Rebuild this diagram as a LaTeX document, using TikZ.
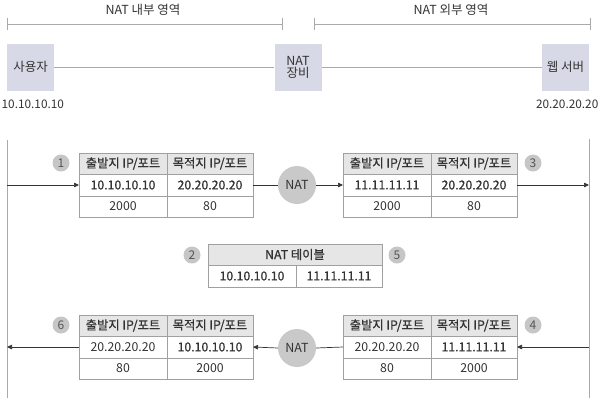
\documentclass[tikz,border=0pt]{standalone}
\usepackage{fontspec}
\setmainfont{Noto Sans CJK KR}
\newfontfamily\semib[FakeBold=0.9]{Noto Sans CJK KR}
\usetikzlibrary{arrows.meta}
\definecolor{hostc}{HTML}{D7DAE6}
\definecolor{gridc}{HTML}{A0A0A0}
\definecolor{headc}{HTML}{E6E6E6}
\definecolor{numc}{HTML}{C6C6C6}
\definecolor{numtext}{HTML}{555555}
\definecolor{natfill}{HTML}{C9C9C9}
\definecolor{linec}{HTML}{AAAAAA}
\definecolor{txtc}{HTML}{333333}
\newcommand\ptable[7]{%
  \node[hcell, wa, anchor=north west] (#1ha) at (#2,#3) {\semib 출발지 IP/포트};
  \node[hcell, wb, anchor=north west] (#1hb) at (#1ha.north east) {\semib 목적지 IP/포트};
  \node[cell, wa, anchor=north west] (#1aa) at (#1ha.south west) {#4};
  \node[cell, wb, anchor=north west] (#1ab) at (#1aa.north east) {#5};
  \node[cell, wa, anchor=north west, minimum height=21] (#1ba) at (#1aa.south west) {#6};
  \node[cell, wb, anchor=north west, minimum height=21] (#1bb) at (#1ba.north east) {#7};
}
\begin{document}
\begin{tikzpicture}[x=1pt,y=-1pt,
  every node/.style={text=txtc, font=\fontsize{12.3}{14}\selectfont},
  hostbox/.style={fill=hostc, minimum width=47, minimum height=47, inner sep=0, align=center, font=\fontsize{12.5}{14}\selectfont},
  cell/.style={draw=gridc, line width=0.6pt, minimum height=22, inner sep=0, outer sep=0},
  hcell/.style={cell, fill=headc, minimum height=21},
  wa/.style={minimum width=88},
  wb/.style={minimum width=86},
  num/.style={circle, fill=numc, minimum size=17, inner sep=0, text=numtext, font=\fontsize{12}{12}\selectfont},
  natc/.style={circle, fill=natfill, minimum size=38, inner sep=0, font=\fontsize{12.5}{14}\selectfont},
  iplab/.style={font=\fontsize{11.8}{14}\selectfont, inner sep=1pt},
  glin/.style={draw=linec, line width=0.7pt},
  arr/.style={draw=txtc, line width=0.7pt, -{Triangle[length=5pt,width=4.5pt]}},
  plain/.style={draw=txtc, line width=0.7pt}]
\useasboundingbox (0,0) rectangle (600,408);

% top brackets
\node[font=\fontsize{12.5}{14}\selectfont] (inlab) at (143,10) {NAT 내부 영역};
\node[font=\fontsize{12.5}{14}\selectfont] (outlab) at (451,10) {NAT 외부 영역};
\draw[glin] (7,18) -- (7,30) (7,24) -- (282,24) (282,18) -- (282,30);
\draw[glin] (314,18) -- (314,30) (314,24) -- (590,24) (590,18) -- (590,30);

% hosts
\node[hostbox] (user) at (30.5,67) {사용자};
\node[hostbox] (natdev) at (298,67) {NAT\\[-2pt]장비};
\node[hostbox] (web) at (565.5,67) {웹 서버};
\draw[glin] (user.east) -- (natdev.west);
\draw[glin] (natdev.east) -- (web.west);
\node[iplab, anchor=west] (userip) at (0.5,104) {10.10.10.10};
\node[iplab, anchor=east] (webip) at (599.5,104) {20.20.20.20};

% vertical lines
\coordinate (lt) at (7,140);
\coordinate (lb) at (7,398);
\coordinate (rt) at (589,139);
\coordinate (rb) at (589,398);
\draw[glin] (lt) -- (lb);
\draw[glin] (rt) -- (rb);

% tables
\ptable{t1}{79}{153}{\semib 10.10.10.10}{\semib 20.20.20.20}{2000}{80}
\ptable{t3}{343}{153}{\semib 11.11.11.11}{\semib 20.20.20.20}{2000}{80}
\ptable{t6}{79}{315}{20.20.20.20}{\semib 10.10.10.10}{80}{2000}
\ptable{t4}{343}{315}{20.20.20.20}{\semib 11.11.11.11}{80}{2000}

% NAT table
\node[hcell, minimum width=174, anchor=north west] (nth) at (208,244) {\semib NAT 테이블};
\node[cell, wa, anchor=north west] (nta) at (nth.south west) {\semib 10.10.10.10};
\node[cell, wb, anchor=north west] (ntb) at (nta.north east) {\semib 11.11.11.11};

% NAT circles
\node[natc] (nat1) at (297,185) {NAT};
\node[natc] (nat2) at (297,348) {NAT};

% numbers
\node[num] (n1) at (61,163) {1};
\node[num] (n2) at (192,255) {2};
\node[num] (n3) at (533,163) {3};
\node[num] (n4) at (533,325) {4};
\node[num] (n5) at (397,255) {5};
\node[num] (n6) at (61,325) {6};

% connectors
\draw[arr] (t1aa.west -| lt) -- (t1aa.west);
\draw[plain] (t1ab.east) -- (nat1.west);
\draw[arr] (nat1.east) -- (t3aa.west);
\draw[arr] (t3ab.east) -- (t3ab.east -| rt);
\draw[arr] (t4ab.east -| rt) -- (t4ab.east);
\draw[plain] (t4aa.west) -- (nat2.east);
\draw[arr] (nat2.west) -- (t6ab.east);
\draw[arr] (t6aa.west) -- (t6aa.west -| lt);
\end{tikzpicture}
\end{document}
